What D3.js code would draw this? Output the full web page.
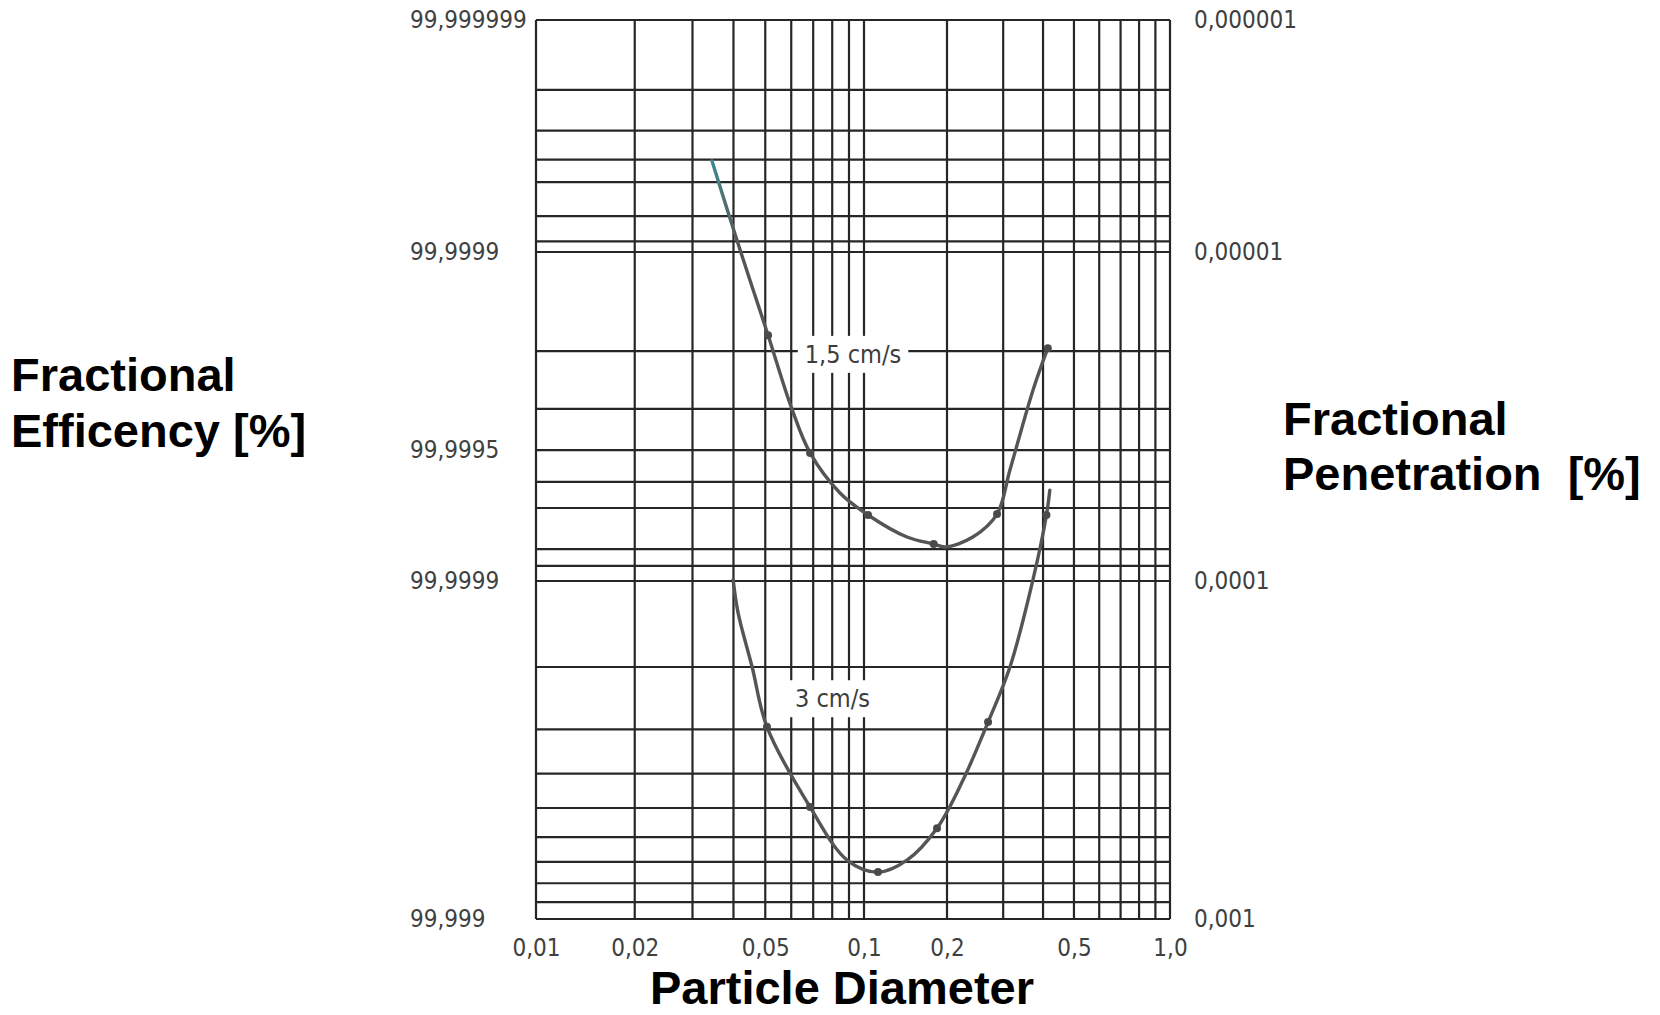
<!DOCTYPE html>
<html>
<head>
<meta charset="utf-8">
<script src="https://cdn.jsdelivr.net/npm/d3@7"></script>
<style>
  body { margin: 0; background: #fff; }
  svg { display: block; }
  .tick text { font-family: "DejaVu Sans Condensed", "DejaVu Sans", sans-serif; font-size: 24px; fill: #404040; }
  .curve-label { font-family: "DejaVu Sans Condensed", "DejaVu Sans", sans-serif; font-size: 25px; fill: #3d3d3d; }
  .title { font-family: "Liberation Sans", Arial, sans-serif; font-weight: bold; font-size: 47px; fill: #000; white-space: pre; }
</style>
</head>
<body>
<svg id="chart" width="1660" height="1015"></svg>
<script>
// Particle diameter [µm] and fractional penetration [%]
const size15 = [0.0344, 0.0413, 0.051, 0.060, 0.0685, 0.0845, 0.1034, 0.1432, 0.179, 0.197, 0.241, 0.287, 0.315, 0.372, 0.414];
const pen15  = [4.05e-6, 9.2e-6, 1.79e-5, 2.96e-5, 4.08e-5, 5.4e-5, 6.3e-5, 7.35e-5, 7.72e-5, 7.88e-5, 7.35e-5, 6.26e-5, 4.6e-5, 2.63e-5, 1.96e-5];
const size3  = [0.0399, 0.0413, 0.0456, 0.0506, 0.0685, 0.0888, 0.1124, 0.1432, 0.184, 0.2245, 0.269, 0.315, 0.372, 0.41, 0.42];
const pen3   = [9.9e-5, 1.29e-4, 2.0e-4, 2.95e-4, 4.97e-4, 6.92e-4, 7.46e-4, 6.92e-4, 5.67e-4, 4.17e-4, 2.86e-4, 2.0e-4, 9.9e-5, 6.3e-5, 5.3e-5];

// measured points (dots) on each curve
const dotSize15 = [0.051, 0.0685, 0.1034, 0.179, 0.287, 0.414];
const dotPen15  = [1.79e-5, 4.08e-5, 6.3e-5, 7.72e-5, 6.26e-5, 1.96e-5];
const dotSize3  = [0.0506, 0.0685, 0.1124, 0.184, 0.269, 0.41];
const dotPen3   = [2.95e-4, 4.97e-4, 7.46e-4, 5.67e-4, 2.86e-4, 6.3e-5];

// curve labels and where they sit (left edge, middle)
const curveLabels = ["1,5 cm/s", "3 cm/s"];
const labelSize   = [0.066, 0.0616];
const labelPen    = [2.04e-5, 2.45e-4];

// grid of the log paper
const xGrid = [0.01, 0.02, 0.03, 0.04, 0.05, 0.06, 0.07, 0.08, 0.09, 0.1,
               0.2, 0.3, 0.4, 0.5, 0.6, 0.7, 0.8, 0.9, 1.0];
const yGrid = [1e-6, 2e-6, 3e-6, 4e-6, 5e-6, 7e-6, 9e-6,
               1e-5, 2e-5, 3e-5, 4e-5, 5e-5, 6e-5, 8e-5, 9e-5,
               1e-4, 2e-4, 3e-4, 4e-4, 5e-4, 6e-4, 7e-4, 8e-4, 9e-4, 1e-3];

// tick labels
const xTicks      = [0.01, 0.02, 0.05, 0.1, 0.2, 0.5, 1.0];
const xTickLabels = ["0,01", "0,02", "0,05", "0,1", "0,2", "0,5", "1,0"];
const penTicks      = [1e-6, 1e-5, 1e-4, 1e-3];
const penTickLabels = ["0,000001", "0,00001", "0,0001", "0,001"];
const effTicks      = [1e-6, 1e-5, 4e-5, 1e-4, 1e-3];
const effTickLabels = ["99,999999", "99,9999", "99,9995", "99,9999", "99,999"];

const svg = d3.select("#chart");
svg.append("rect").attr("width", 1660).attr("height", 1015).attr("fill", "#fff");

// the scanned sheet is not evenly spaced, so the log scales are piecewise
const x = d3.scaleLog()
  .domain([0.01, 0.1, 0.2, 1])
  .range([536, 864, 947, 1170]);

const y = d3.scaleLog()
  .domain([1e-6, 1e-5, 1e-4, 2e-4, 5e-4, 1e-3])
  .range([20, 252, 581, 667, 808, 919]);

const [x0, x1] = [x(0.01), x(1)];
const [y0, y1] = [y(1e-6), y(1e-3)];

// Grid
const grid = svg.append("g").attr("stroke", "#262626").attr("stroke-width", 2.2);
grid.selectAll("line.v")
  .data(xGrid)
  .enter()
  .append("line")
  .attr("class", "v")
  .attr("x1", d => x(d)).attr("x2", d => x(d))
  .attr("y1", y0).attr("y2", y1);

grid.selectAll("line.h")
  .data(yGrid)
  .enter()
  .append("line")
  .attr("class", "h")
  .attr("x1", x0).attr("x2", x1)
  .attr("y1", d => y(d)).attr("y2", d => y(d));

// Axes (labels only, the grid is the paper)
svg.append("g")
  .attr("transform", `translate(0, ${y1})`)
  .call(d3.axisBottom(x).tickValues(xTicks).tickFormat((d, i) => xTickLabels[i]).tickSize(0).tickPadding(20))
  .call(g => g.select(".domain").remove());

svg.append("g")
  .attr("transform", `translate(${x1}, 0)`)
  .call(d3.axisRight(y).tickValues(penTicks).tickFormat((d, i) => penTickLabels[i]).tickSize(0).tickPadding(24))
  .call(g => g.select(".domain").remove());

svg.append("g")
  .attr("transform", `translate(${x0}, 0)`)
  .call(d3.axisLeft(y).tickValues(effTicks).tickFormat((d, i) => effTickLabels[i]).tickSize(0))
  .call(g => g.select(".domain").remove())
  .selectAll("text")
  .attr("text-anchor", "start")
  .attr("x", 410 - x0);

// Curves
const defs = svg.append("defs");
const grad = defs.append("linearGradient")
  .attr("id", "topFade")
  .attr("gradientUnits", "userSpaceOnUse")
  .attr("x1", 0).attr("x2", 0)
  .attr("y1", y(pen15[0])).attr("y2", y(pen15[1]));
grad.append("stop").attr("offset", 0).attr("stop-color", "#3d8a90");
grad.append("stop").attr("offset", 0.5).attr("stop-color", "#4f6f72");
grad.append("stop").attr("offset", 1).attr("stop-color", "#555");

const line = d3.line()
  .x(d => x(d[0]))
  .y(d => y(d[1]))
  .curve(d3.curveCatmullRom.alpha(0.5));

const curves = [
  { pts: d3.zip(size15, pen15), dots: d3.zip(dotSize15, dotPen15), stroke: "url(#topFade)" },
  { pts: d3.zip(size3, pen3), dots: d3.zip(dotSize3, dotPen3), stroke: "#555" }
];

curves.forEach(c => {
  svg.append("path")
    .attr("d", line(c.pts))
    .attr("fill", "none")
    .attr("stroke", c.stroke)
    .attr("stroke-width", 3.4)
    .attr("stroke-linecap", "round");

  svg.append("g")
    .selectAll("circle")
    .data(c.dots)
    .enter()
    .append("circle")
    .attr("cx", d => x(d[0]))
    .attr("cy", d => y(d[1]))
    .attr("r", 4)
    .attr("fill", "#4a4a4a");
});

// Curve labels on white patches
curveLabels.forEach((txt, i) => {
  const g = svg.append("g");
  const t = g.append("text")
    .attr("class", "curve-label")
    .attr("x", x(labelSize[i]))
    .attr("y", y(labelPen[i]))
    .attr("dy", "0.36em")
    .text(txt);
  const b = t.node().getBBox();
  g.insert("rect", "text")
    .attr("x", b.x - 7).attr("y", b.y - 4)
    .attr("width", b.width + 14).attr("height", b.height + 8)
    .attr("fill", "#fff");
});

// Titles
const leftTitle = svg.append("text").attr("class", "title");
leftTitle.append("tspan").attr("x", 11).attr("y", 391).text("Fractional");
leftTitle.append("tspan").attr("x", 11).attr("y", 447).text("Efficency [%]");

const rightTitle = svg.append("text").attr("class", "title");
rightTitle.append("tspan").attr("x", 1283).attr("y", 435).text("Fractional");
rightTitle.append("tspan").attr("x", 1283).attr("y", 490).text("Penetration  [%]");

svg.append("text")
  .attr("class", "title")
  .attr("x", 842)
  .attr("y", 1004)
  .attr("text-anchor", "middle")
  .text("Particle Diameter");
</script>
</body>
</html>
